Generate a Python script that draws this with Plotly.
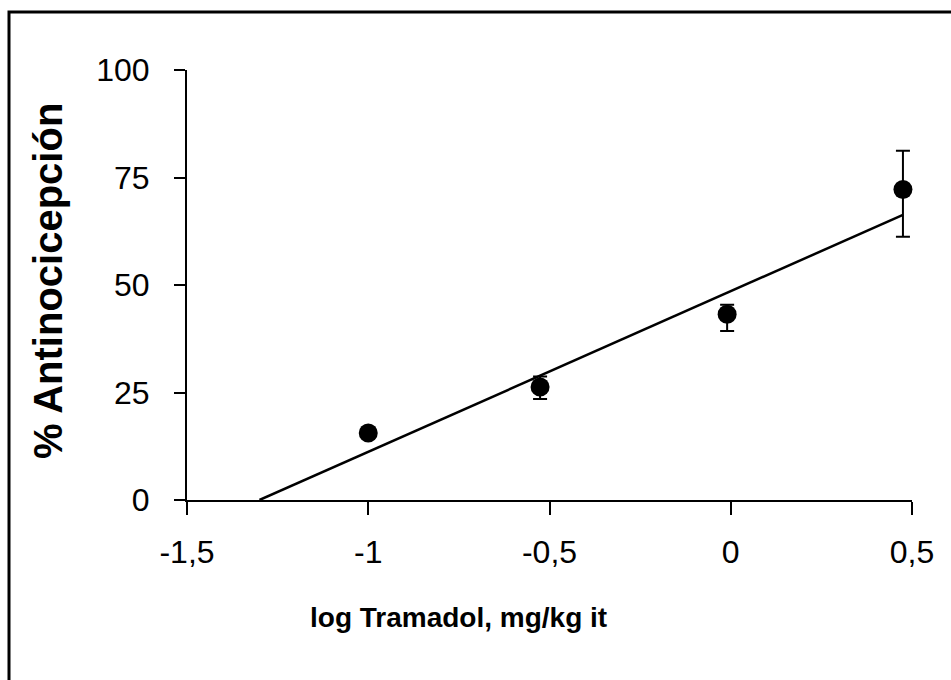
import plotly.graph_objects as go

# Data
log_dose = [-1.0, -0.526, -0.01, 0.475]
antinoc = [15.6, 26.3, 43.2, 72.2]
err_plus = [1.2, 2.4, 2.2, 9.0]
err_minus = [1.2, 2.8, 3.9, 11.0]
fit_x = [-1.30, 0.475]
fit_y = [0.0, 66.3]

x_ticks = [-1.5, -1.0, -0.5, 0.0, 0.5]
x_ticktext = ["-1,5", "-1", "-0,5", "0", "0,5"]
y_ticks = [0, 25, 50, 75, 100]
y_ticktext = ["0", "25", "50", "75", "100"]

W, H = 951, 680
L, R, T, B = 187, 39, 70, 180
pw, ph = W - L - R, H - T - B

def px(x):
    return (x - L) / pw

def py(y):
    return (H - B - y) / ph

fig = go.Figure()
fig.add_trace(go.Scatter(
    x=fit_x, y=fit_y, mode="lines",
    line=dict(color="black", width=2.5),
    showlegend=False, hoverinfo="skip", cliponaxis=False))
fig.add_trace(go.Scatter(
    x=log_dose, y=antinoc, mode="markers",
    marker=dict(color="black", size=19, symbol="circle"),
    error_y=dict(type="data", symmetric=False, array=err_plus, arrayminus=err_minus,
                 color="black", thickness=2, width=7),
    showlegend=False, cliponaxis=False))

fig.update_xaxes(
    range=[-1.5, 0.5], tickvals=x_ticks, ticktext=x_ticktext,
    showgrid=False, zeroline=False, showline=True, linecolor="black", linewidth=2,
    ticks="outside", ticklen=13, tickwidth=2, tickcolor="black",
    ticklabelstandoff=10,
    tickfont=dict(family="Liberation Sans, Arial", size=32, color="black"))
fig.update_yaxes(
    range=[0, 100], tickvals=y_ticks, ticktext=y_ticktext,
    showgrid=False, zeroline=False, showline=True, linecolor="black", linewidth=2,
    ticks="outside", ticklen=11, tickwidth=2, tickcolor="black",
    ticklabelstandoff=18,
    tickfont=dict(family="Liberation Sans, Arial", size=32, color="black"))

fig.add_annotation(
    x=px(458), y=py(617), xref="paper", yref="paper",
    text="<b>log Tramadol, mg/kg it</b>", showarrow=False,
    xanchor="center", yanchor="middle",
    font=dict(family="Liberation Sans, Arial", size=28, color="black"))
fig.add_annotation(
    x=px(48), y=py(281), xref="paper", yref="paper",
    text="<b>% Antinocicepción</b>", showarrow=False, textangle=-90,
    xanchor="center", yanchor="middle",
    font=dict(family="Liberation Sans, Arial", size=40, color="black"))

# outer chart border
fig.add_shape(type="rect", xref="paper", yref="paper",
              x0=px(9), x1=px(W + 6), y0=py(H + 10), y1=py(12),
              line=dict(color="black", width=3), fillcolor="rgba(0,0,0,0)", layer="below")

fig.update_layout(
    width=W, height=H,
    margin=dict(l=L, r=R, t=T, b=B),
    paper_bgcolor="white", plot_bgcolor="white",
    showlegend=False)

fig.write_html("out.html")
